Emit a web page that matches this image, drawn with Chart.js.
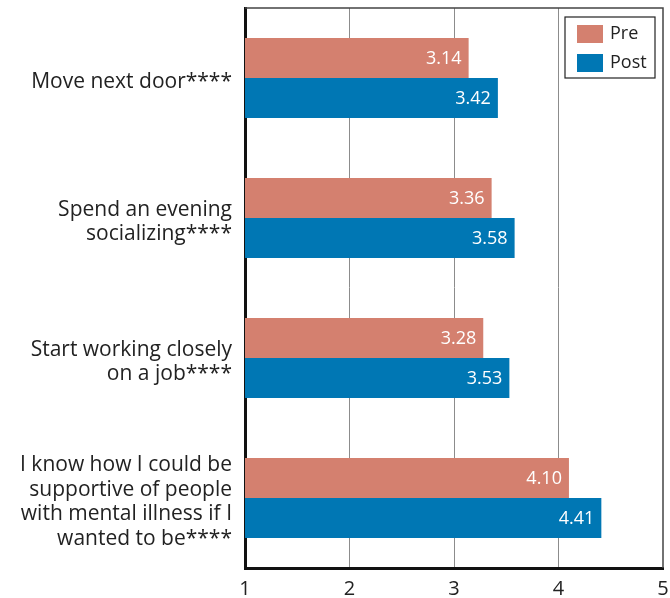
<!DOCTYPE html>
<html lang="en">
<head>
    <meta charset="UTF-8">
    <title>Pre vs Post</title>
    <script src="https://cdn.jsdelivr.net/npm/chart.js"></script>
    <style>
        html, body { margin: 0; padding: 0; background: #fff; }
        #wrap { width: 670px; height: 598px; }
    </style>
</head>
<body>
    <div id="wrap"><canvas id="chart"></canvas></div>
    <script>
        var categories = [
            ['Move next door****'],
            ['Spend an evening', 'socializing****'],
            ['Start working closely', 'on a job****'],
            ['I know how I could be', 'supportive of people', 'with mental illness if I', 'wanted to be****']
        ];
        var preValues = [3.14, 3.36, 3.28, 4.10];
        var postValues = [3.42, 3.58, 3.53, 4.41];
        var xTicks = [1, 2, 3, 4, 5];

        var FONT = '"Open Sans", "Noto Sans", sans-serif';

        // white value labels at the end of each bar
        var valueLabels = {
            id: 'valueLabels',
            afterDatasetsDraw: function(chart) {
                var ctx = chart.ctx;
                ctx.save();
                ctx.fillStyle = '#fff';
                ctx.font = '18px ' + FONT;
                ctx.textAlign = 'right';
                ctx.textBaseline = 'middle';
                chart.data.datasets.forEach(function(ds, i) {
                    chart.getDatasetMeta(i).data.forEach(function(bar, j) {
                        ctx.fillText(ds.data[j].toFixed(2), bar.x - 7, bar.y + 1);
                    });
                });
                ctx.restore();
            }
        };

        // frame on top/right and the legend box inside the plot
        var frameAndLegend = {
            id: 'frameAndLegend',
            afterDraw: function(chart) {
                var ctx = chart.ctx, a = chart.chartArea;
                ctx.save();
                ctx.strokeStyle = '#444';
                ctx.lineWidth = 1.5;
                ctx.beginPath();
                ctx.moveTo(a.left, a.top);
                ctx.lineTo(a.right, a.top);
                ctx.lineTo(a.right, a.bottom);
                ctx.stroke();

                var bx = 565, by = 17, bw = 90, bh = 61;
                ctx.fillStyle = '#fff';
                ctx.fillRect(bx, by, bw, bh);
                ctx.strokeStyle = '#222';
                ctx.lineWidth = 1.2;
                ctx.strokeRect(bx, by, bw, bh);
                ctx.font = '18px ' + FONT;
                ctx.textBaseline = 'middle';
                ctx.textAlign = 'left';
                chart.data.datasets.forEach(function(ds, i) {
                    var y = by + 8 + i * 29;
                    ctx.fillStyle = ds.backgroundColor;
                    ctx.fillRect(bx + 12, y, 26, 18);
                    ctx.fillStyle = '#222';
                    ctx.fillText(ds.label, bx + 45, y + 9);
                });
                ctx.restore();
            }
        };

        var ctx = document.getElementById('chart').getContext('2d');
        var chart = new Chart(ctx, {
            type: 'bar',
            data: {
                labels: categories,
                datasets: [{
                    label: 'Pre',
                    data: preValues,
                    backgroundColor: '#d4806f'
                }, {
                    label: 'Post',
                    data: postValues,
                    backgroundColor: '#0077b4'
                }]
            },
            plugins: [valueLabels, frameAndLegend],
            options: {
                indexAxis: 'y',
                responsive: true,
                maintainAspectRatio: false,
                animation: false,
                layout: { padding: { top: 8, right: 7, left: 0, bottom: 0 } },
                datasets: {
                    bar: { categoryPercentage: 0.572, barPercentage: 1.0 }
                },
                plugins: {
                    legend: { display: false },
                    tooltip: { enabled: false }
                },
                scales: {
                    x: {
                        min: 1,
                        max: 5,
                        afterBuildTicks: function(axis) {
                            axis.ticks = xTicks.map(function(v) { return { value: v }; });
                        },
                        afterFit: function(axis) {
                            axis.height = 30;
                            axis.paddingLeft = 0;
                            axis.paddingRight = 0;
                        },
                        ticks: {
                            color: '#222',
                            font: { family: FONT, size: 20 },
                            padding: 9,
                            maxRotation: 0
                        },
                        grid: {
                            drawTicks: false,
                            color: function(c) {
                                if (c.tick && (c.tick.value === 1 || c.tick.value === 5)) return 'rgba(0,0,0,0)';
                                return '#8c8c8c';
                            },
                            lineWidth: 1
                        },
                        border: { display: true, color: '#111', width: 3 }
                    },
                    y: {
                        afterFit: function(axis) {
                            axis.width = 245;
                            axis.paddingTop = 0;
                            axis.paddingBottom = 0;
                        },
                        ticks: {
                            color: '#222',
                            font: { family: FONT, size: 21, lineHeight: 1.17 },
                            padding: 13,
                            labelOffset: 4
                        },
                        grid: { display: false, drawTicks: false },
                        border: { display: true, color: '#111', width: 3 }
                    }
                }
            }
        });
    </script>
</body>
</html>
